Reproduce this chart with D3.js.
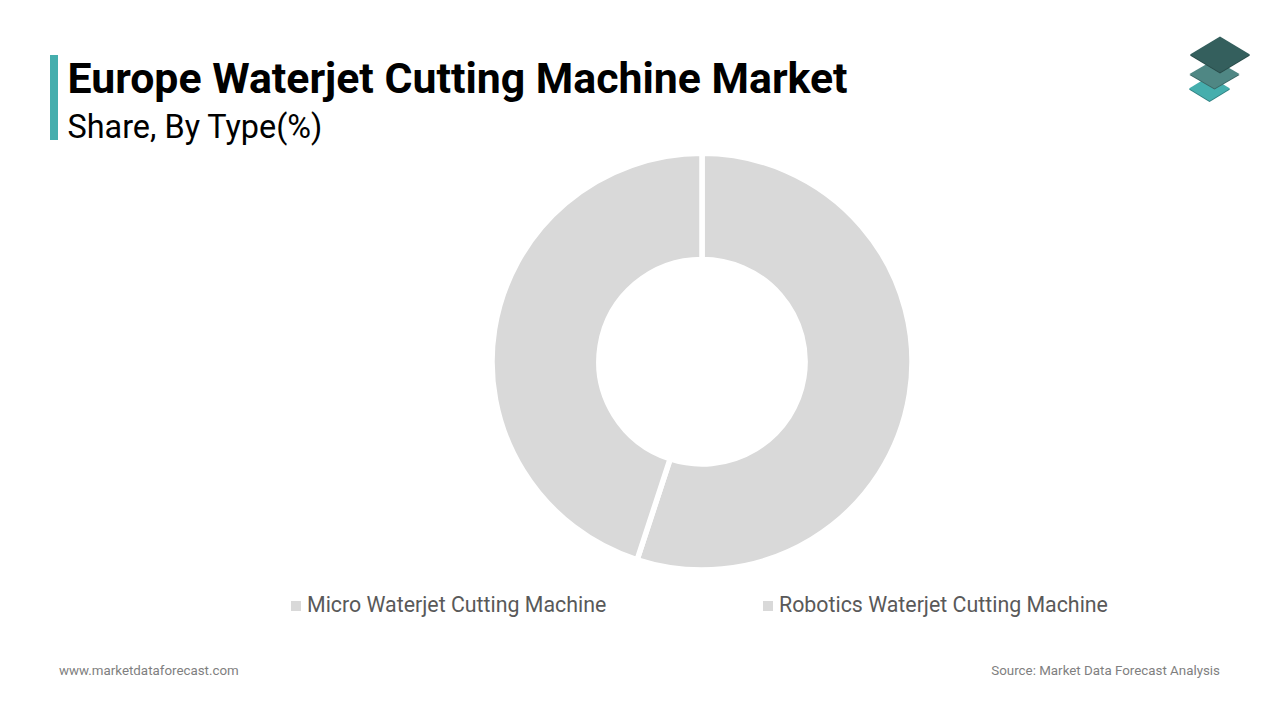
<!DOCTYPE html>
<html>
<head>
<meta charset="utf-8">
<script src="https://cdn.jsdelivr.net/npm/d3@7"></script>
<style>
  html, body { margin: 0; padding: 0; background: #fff; }
  text { font-family: Roboto, sans-serif; }
</style>
</head>
<body>
<div id="chart"></div>
<script>
// Data
const categories = ["Robotics Waterjet Cutting Machine", "Micro Waterjet Cutting Machine"];
const shares = [55, 45];
const legendOrder = ["Micro Waterjet Cutting Machine", "Robotics Waterjet Cutting Machine"];

const width = 1280;
const height = 720;

const svg = d3.select("#chart")
    .append("svg")
    .attr("width", width)
    .attr("height", height)
    .style("display", "block");

// Title block
svg.append("rect").attr("x", 50).attr("y", 55).attr("width", 8).attr("height", 85).attr("fill", "#45aead");
svg.append("text").attr("x", 67.5).attr("y", 93)
    .attr("font-size", 42.8).attr("font-weight", 700).attr("fill", "#000")
    .text("Europe Waterjet Cutting Machine Market");
svg.append("text").attr("x", 67.5).attr("y", 138)
    .attr("font-size", 32.4).attr("fill", "#000")
    .text("Share, By Type(%)");

// Logo, three stacked diamonds
const logo = svg.append("g");
const diamonds = [
    { cx: 1209.5, cy: 88.5, rx: 20.5, ry: 12.5, fill: "#45aead", edge: "#2f7f80" },
    { cx: 1214.5, cy: 74, rx: 25, ry: 14.5, fill: "#4f8784", edge: "#3a6664" },
    { cx: 1220, cy: 54.5, rx: 30, ry: 18, fill: "#345f5d", edge: "#284a48" }
];
diamonds.forEach(d => {
    const pts = [[d.cx, d.cy - d.ry], [d.cx + d.rx, d.cy], [d.cx, d.cy + d.ry], [d.cx - d.rx, d.cy]];
    logo.append("polygon")
        .attr("points", pts.map(p => [p[0], p[1] + 1].join(",")).join(" "))
        .attr("fill", d.edge);
    logo.append("polygon")
        .attr("points", pts.join(" "))
        .attr("fill", d.fill);
});

// Donut, very slightly squashed like the reference
const color = d3.scaleOrdinal().domain(categories).range(["#d9d9d9", "#d9d9d9"]);
const pie = d3.pie().sort(null)(shares);
const arc = d3.arc().innerRadius(103.1).outerRadius(210);

svg.append("g")
    .attr("transform", "translate(702,361.65) scale(1,0.992)")
    .selectAll("path")
    .data(pie)
    .join("path")
    .attr("d", arc)
    .attr("fill", (d, i) => color(categories[i]))
    .attr("stroke", "#fff")
    .attr("stroke-width", 5.5);

// Legend
const legendX = d3.scalePoint().domain(legendOrder).range([291, 763]);
const legend = svg.append("g")
    .selectAll("g")
    .data(legendOrder)
    .join("g")
    .attr("transform", d => `translate(${legendX(d)},0)`);
legend.append("rect")
    .attr("y", 601).attr("width", 10).attr("height", 10)
    .attr("fill", d => color(d));
legend.append("text")
    .attr("x", 16).attr("y", 612)
    .attr("font-size", 21.35).attr("fill", "#595959")
    .text(d => d);

// Footer
svg.append("text").attr("x", 59).attr("y", 675)
    .attr("font-size", 13.35).attr("fill", "#7f7f7f")
    .text("www.marketdataforecast.com");
svg.append("text").attr("x", 1220).attr("y", 675)
    .attr("text-anchor", "end")
    .attr("font-size", 13.35).attr("fill", "#7f7f7f")
    .text("Source: Market Data Forecast Analysis");
</script>
</body>
</html>
